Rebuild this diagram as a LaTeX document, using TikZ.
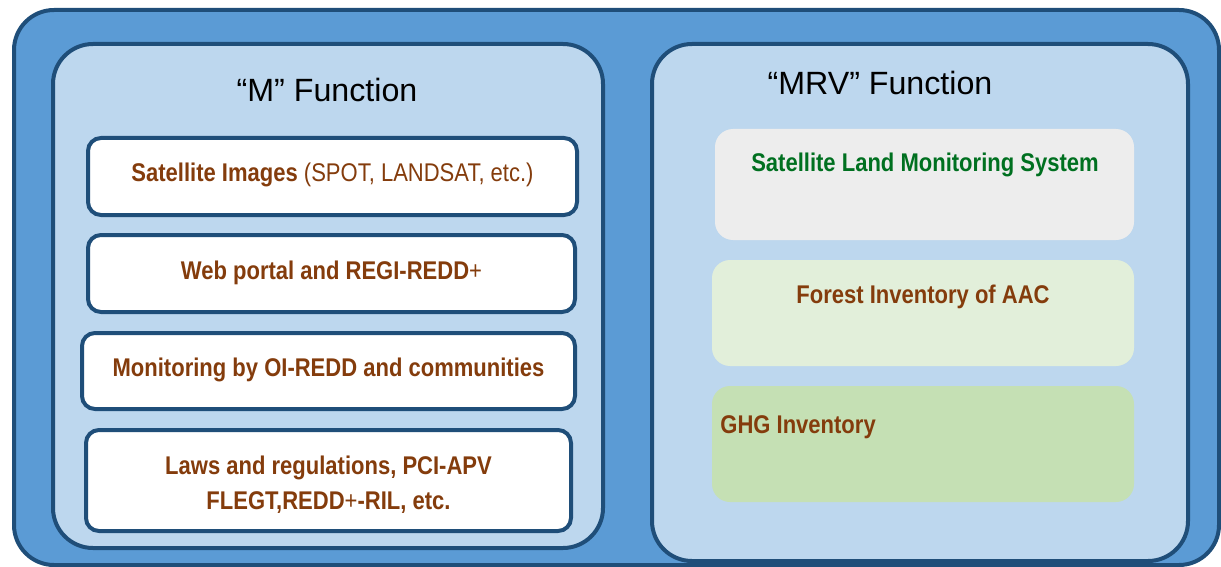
\documentclass[tikz,border=0pt]{standalone}
\usepackage{fontspec}
\setmainfont{Liberation Sans}
\newfontfamily\boxfont[FakeStretch=0.86]{Liberation Sans}
\definecolor{outerfill}{HTML}{5B9BD5}
\definecolor{edgeblue}{HTML}{1F4E79}
\definecolor{panelfill}{HTML}{BDD7EE}
\definecolor{brown}{HTML}{843C0C}
\definecolor{slmsgreen}{RGB}{0,112,32}
\definecolor{greyfill}{HTML}{EDEDED}
\definecolor{palegreen}{HTML}{E2EFDA}
\definecolor{midgreen}{HTML}{C5E0B4}
\newcommand{\thinplus}{{\mdseries+}}
\tikzset{
  panel/.style={draw=edgeblue, line width=2pt, fill=panelfill, rounded corners=20pt},
  itembox/.style={draw=edgeblue, line width=2pt, fill=white, rounded corners=6.5pt,
    inner sep=0pt, font=\boxfont\fontsize{12.8}{17.5}\selectfont\bfseries, text=brown, align=center},
  softbox/.style={rounded corners=9pt, inner sep=0pt},
  itemtext/.style={font=\boxfont\fontsize{12.8}{17.5}\selectfont\bfseries, inner sep=0pt},
  title/.style={font=\fontsize{16.1}{19}\selectfont, text=black, inner sep=0pt},
}
\begin{document}
\begin{tikzpicture}[x=0.5pt, y=-0.5pt]
\useasboundingbox (0,0) rectangle (1221,567);
\clip (0,0) rectangle (1221,567);

% outer frame
\draw[draw=edgeblue, line width=2pt, fill=outerfill, rounded corners=20pt]
  (14,10) rectangle (1219,565);

% the two function panels
\draw[panel] (53,44) rectangle (603,548);
\draw[panel] (652,44) rectangle (1188,561);

\node[title] (mtitle) at (327,90) {“M” Function};
\node[title] (mrvtitle) at (880,83) {“MRV” Function};

% "M" function items
\node[itembox, minimum width=244.5pt, minimum height=38.5pt] (sat) at (332.5,176.5) {};
\node[itemtext, text=brown] (satT) at (332.5,175)
  {Satellite Images {\mdseries(SPOT, LANDSAT, etc.)}};
\node[itembox, minimum width=243.5pt, minimum height=38.5pt] (web) at (331.5,273.5) {};
\node[itemtext, text=brown] (webT) at (331.5,272.5) {Web portal and REGI-REDD\thinplus};
\node[itembox, minimum width=246.5pt, minimum height=38pt] (oi) at (328.5,371) {};
\node[itemtext, text=brown] (oiT) at (328.5,370) {Monitoring by OI-REDD and communities};
\node[itembox, minimum width=242.5pt, minimum height=50.5pt] (laws) at (328.5,480.5) {};
\node[itemtext, text=brown, align=center] (lawsT) at (328.5,484.5)
  {Laws and regulations, PCI-APV\\FLEGT,REDD\thinplus-RIL, etc.};

% "MRV" function items
\node[softbox, fill=greyfill, minimum width=209.5pt, minimum height=55.5pt] (slms) at (924.5,184.5) {};
\node[itemtext, text=slmsgreen] (slmsT) at (925,164.5) {Satellite Land Monitoring System};

\node[softbox, fill=palegreen, minimum width=211pt, minimum height=53pt] (fi) at (923,313) {};
\node[itemtext, text=brown] (fiT) at (923,296.5) {Forest Inventory of AAC};

\node[softbox, fill=midgreen, minimum width=211pt, minimum height=58pt] (ghg) at (923,444) {};
\node[itemtext, text=brown, anchor=west] (ghgT) at (720,427.5) {GHG Inventory};
\end{tikzpicture}
\end{document}
